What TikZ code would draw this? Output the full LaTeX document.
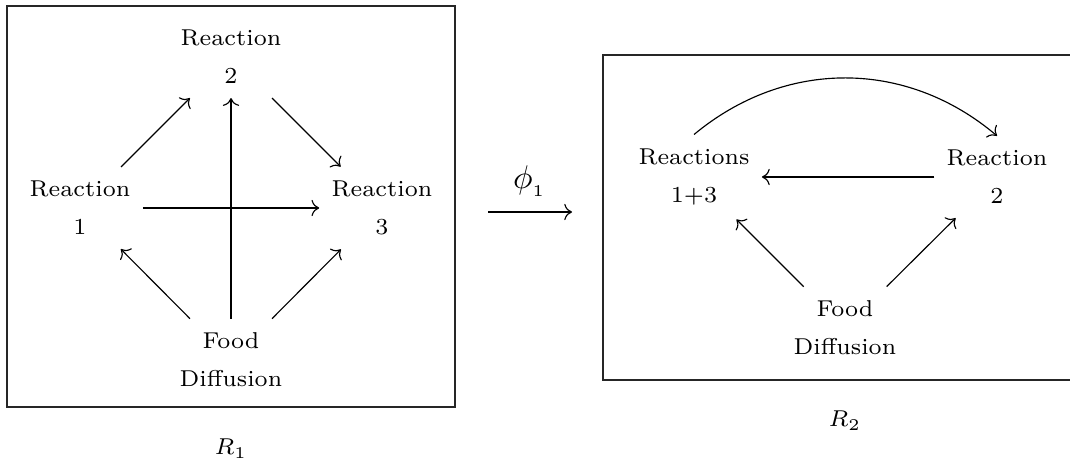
\documentclass[tikz,border=0pt]{standalone}
\usetikzlibrary{arrows.meta}

\begin{document}
\begin{tikzpicture}[x=0.305pt, y=-0.305pt,
    font=\fontsize{7}{11.5}\selectfont,
    react/.style={align=center, inner xsep=3.6pt, inner ysep=4.2pt},
    frame/.style={draw=black!85, line width=0.4pt},
    arr/.style={->, line width=0.35pt},
    lbl/.style={anchor=base},
    maplbl/.style={above, inner sep=4.6pt, font=\fontsize{10}{12}\selectfont},
  ]
% --- Page ------------------------------------------------------------------------
\useasboundingbox (0,0) rectangle (1070,463);

% --- Frames (the right one runs off the page) -------------------------------------
\draw[frame] (7,6) rectangle (455,407);
\draw[frame] (1090,380) -- (603,380) -- (603,55) -- (1090,55);

% --- First network -----------------------------------------------------------------
\node[react] (one) at (80,208) {Reaction\\1};
\node[react] (two) at (231,57) {Reaction\\2};
\node[react] (three) at (382,208) {Reaction\\3};
\node[react] (food) at (231,360) {Food\\Diffusion};
\node[lbl] (rone) at (231,455) {$R_1$};

% --- Second network ----------------------------------------------------------------
\node[react] (merged) at (694,177) {Reactions\\1+3};
\node[react] (second) at (997,177) {Reaction\\2};
\node[react] (foodb) at (845,328) {Food\\Diffusion};
\node[lbl] (rtwo) at (845,427) {$R_2$};

% --- Map between them --------------------------------------------------------------
\coordinate (mapin) at (488,212);
\coordinate (mapout) at (572,212);

% --- Arrows ------------------------------------------------------------------------
\draw[arr] (one) -- (two);
\draw[arr] (two) -- (three);
\draw[arr] (one) -- (three);
\draw[arr] (food) -- (one);
\draw[arr] (food) -- (two);
\draw[arr] (food) -- (three);
\draw[arr] (mapin) -- node[maplbl] {$\phi_{_1}$} (mapout);
\draw[arr] (merged.north) to[bend left=40] (second.north);
\draw[arr] (second) -- (merged);
\draw[arr] (foodb) -- (merged);
\draw[arr] (foodb) -- (second);
\end{tikzpicture}
\end{document}
